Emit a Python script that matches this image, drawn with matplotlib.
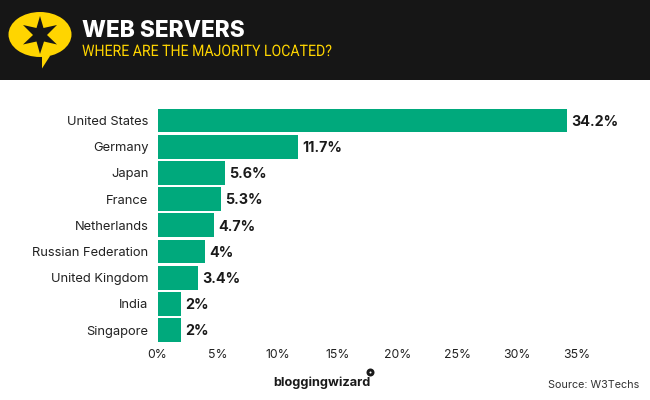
import matplotlib
matplotlib.use("Agg")
import matplotlib.pyplot as plt
from matplotlib.patches import Ellipse, Polygon, Rectangle, Circle
from matplotlib.patheffects import AbstractPathEffect
from matplotlib.transforms import Affine2D

countries = ["United States", "Germany", "Japan", "France", "Netherlands",
             "Russian Federation", "United Kingdom", "India", "Singapore"]
shares = [34.2, 11.7, 5.6, 5.3, 4.7, 4, 3.4, 2, 2]
share_labels = ["34.2%", "11.7%", "5.6%", "5.3%", "4.7%", "4%", "3.4%", "2%", "2%"]
xticks = [0, 5, 10, 15, 20, 25, 30, 35]
title = "WEB SERVERS"
subtitle = "WHERE ARE THE MAJORITY LOCATED?"
source = "Source: W3Techs"
brand = "bloggingwizard"

W, H = 650, 400
BODY = "Inter"
fig = plt.figure(figsize=(W / 100, H / 100), dpi=100, facecolor="white")


class Condense(AbstractPathEffect):
    """Squeeze a text horizontally about a pixel x, as a condensed face would look."""
    def __init__(self, x0, sx):
        super().__init__()
        self.x0, self.sx = x0, sx

    def draw_path(self, renderer, gc, tpath, affine, rgbFace=None):
        squeeze = Affine2D().translate(-self.x0, 0).scale(self.sx, 1).translate(self.x0, 0)
        renderer.draw_path(gc, tpath, affine + squeeze, rgbFace)


# page overlay in pixel coordinates
bg = fig.add_axes([0, 0, 1, 1], zorder=0)
bg.set_xlim(0, W)
bg.set_ylim(H, 0)
bg.axis("off")
bg.add_patch(Rectangle((0, 0), W, 80, color="#161616", lw=0))
YEL = "#FFD500"
bg.add_patch(Ellipse((40, 34.5), 63, 45, color=YEL, lw=0))
bg.add_patch(Polygon([[42, 55], [50, 56], [42, 68.5]], color=YEL, lw=0))
star = [[40, 16], [43.5, 28], [57, 25], [47, 35], [57, 44.5], [44, 41.5], [40, 54],
        [36.5, 41.5], [23, 44.5], [33, 35], [23, 25], [36.5, 28]]
bg.add_patch(Polygon(star, color="#161616", lw=0))
bg.text(82, 31, title, color="white", fontsize=16.3, fontweight="heavy",
        family="Inter", va="center", ha="left")
bg.text(82, 51.5, subtitle, color=YEL, fontsize=11.4, family="Roboto", va="center", ha="left",
        path_effects=[Condense(82, 0.89)])
bg.text(273, 382.5, brand, color="#1a1a1a", fontsize=9.2, fontweight="bold",
        family="Inter", va="center", ha="left")
bg.add_patch(Circle((370.5, 372.5), 4, color="#1a1a1a", lw=0))
bg.add_patch(Circle((370.5, 372.5), 1, color="white", lw=0))
bg.text(639, 384.5, source, color="#333333", fontsize=7.8, family=BODY, va="center", ha="right")

# chart
left, right, top, bottom = 157.5, 577, 107.4, 343.2
ax = fig.add_axes([left / W, 1 - bottom / H, (right - left) / W, (bottom - top) / H], zorder=1)
ax.patch.set_alpha(0)
ypos = list(range(len(countries)))
bars = ax.barh(ypos, shares, height=0.91, color="#00A97C", lw=0)
ax.set_xlim(0, 35)
ax.set_ylim(len(countries) - 0.5, -0.5)
ax.set_yticks(ypos, countries)
ax.set_xticks(xticks, [f"{t}%" for t in xticks])
for s in ax.spines.values():
    s.set_visible(False)
ax.tick_params(axis="both", length=0, labelcolor="#222222")
ax.tick_params(axis="y", pad=6.5, labelsize=9.3)
ax.tick_params(axis="x", pad=4, labelsize=8.8)
for lab in ax.get_xticklabels() + ax.get_yticklabels():
    lab.set_family(BODY)
for lab in ax.get_yticklabels():
    lab.set_verticalalignment("center_baseline")
vals = ax.bar_label(bars, labels=share_labels, padding=3, fontsize=10.3, fontweight="bold",
                    family=BODY, color="#1a1a1a")
for v in vals:
    v.xyann = (v.xyann[0], -1)

fig.savefig("out.png", dpi=100, facecolor="white")
